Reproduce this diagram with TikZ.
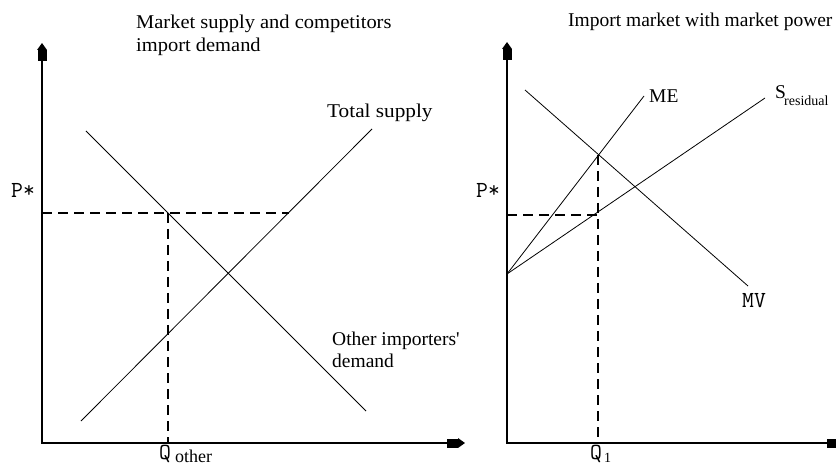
\documentclass[tikz,border=0pt]{standalone}
\usepackage{fontspec}
\setmainfont{Liberation Serif}
\newfontfamily\widefont{Liberation Serif}[FakeStretch=1.05]
\newfontfamily\midfont{Liberation Serif}[FakeStretch=1.09]
\usetikzlibrary{arrows.meta}
\begin{document}
\begin{tikzpicture}[x=1pt,y=-1pt,
  axtip/.tip={Rectangle[length=11pt,width=9pt,sep=0pt]Triangle[length=7pt,width=9.5pt,sep=0pt]},
  axis/.style={line width=1.6pt, line join=miter, axtip-axtip},
  curve/.style={line width=0.8pt},
  guide/.style={line width=1.2pt, dash pattern=on 10pt off 6pt},
  txt/.style={inner sep=0pt, anchor=base west, font=\fontsize{19.5}{23}\selectfont},
  sub/.style={inner sep=0pt, anchor=base west, font=\fontsize{14}{16}\selectfont},
  lab/.style={inner sep=0pt, anchor=base west, font=\ttfamily\fontsize{23}{26}\selectfont}]
\useasboundingbox (0,0) rectangle (836,465);
% ---------- left panel ----------
\coordinate (LO) at (42,443);
\coordinate (Ltop) at (42,43);
\coordinate (Lright) at (465,443);
\draw[axis] (Ltop) -- (LO) -- (Lright);
\coordinate (LdA) at (86,131);
\coordinate (LdB) at (366,411);
\coordinate (LsA) at (81,421);
\coordinate (LsB) at (372,129);
\draw[curve] (LdA) -- (LdB);
\draw[curve] (LsA) -- (LsB);
\coordinate (LP) at (42,213);
\coordinate (LD) at (168,213);
\coordinate (LS) at (289,213);
\coordinate (LQ) at (168,443);
\draw[guide] (LP) -- (LS);
\draw[guide] (LD) -- (LQ);
\node[txt, font=\widefont\fontsize{19.5}{23}\selectfont] (t1) at (136,29) {Market supply and competitors};
\node[txt, font=\widefont\fontsize{19.5}{23}\selectfont] (t2) at (136,52) {import demand};
\node[txt, font=\midfont\fontsize{19.5}{23}\selectfont] (ts) at (327,118) {Total supply};
\node[txt] (to1) at (332,345) {Other importers\textquotesingle};
\node[txt] (to2) at (332,367) {demand};
\node[lab] (lp) at (11,198) {P*};
\node[lab] (lq) at (159,459) {Q};
\node[txt, font=\fontsize{18}{20}\selectfont] (lqo) at (175,462) {other};
% ---------- right panel ----------
\coordinate (RO) at (507,443);
\coordinate (Rtop) at (507,42);
\coordinate (Rright) at (845,443);
\draw[axis] (Rtop) -- (RO) -- (Rright);
\coordinate (RA) at (507,274);
\coordinate (RME) at (644,96);
\coordinate (RS) at (765,98);
\coordinate (RvA) at (525,90);
\coordinate (RvB) at (748,286);
\draw[curve] (RA) -- (RME);
\draw[curve] (RA) -- (RS);
\draw[curve] (RvA) -- (RvB);
\coordinate (RP) at (507,215);
\coordinate (RD) at (598,215);
\coordinate (RQt) at (598,155);
\coordinate (RQ) at (598,443);
\draw[guide] (RP) -- (RD);
\draw[guide] (RQt) -- (RQ);
\node[txt] (t3) at (568,27) {Import market with market power};
\node[txt] (me) at (649,103) {ME};
\node[txt] (sr) at (775,99) {S};
\node[sub] (srr) at (784,106) {residual};
\node[lab] (mv) at (742,308) {MV};
\node[lab] (rp) at (476,198) {P*};
\node[lab] (rq) at (590,459) {Q};
\node[sub] (rq1) at (604,462) {1};
\end{tikzpicture}
\end{document}
